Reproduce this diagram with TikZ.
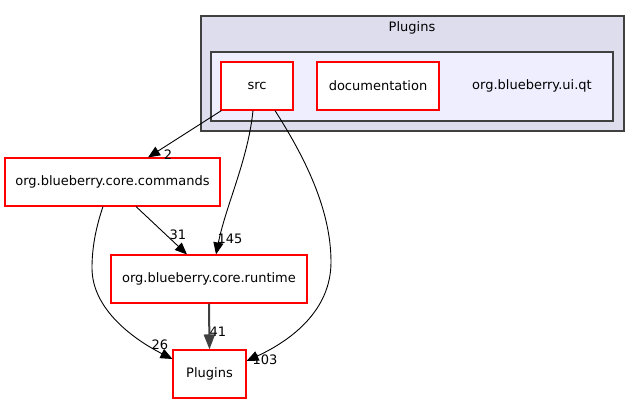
\documentclass[tikz,border=0pt]{standalone}
\usepackage{fontspec}
\setmainfont{DejaVu Sans}
\usetikzlibrary{arrows.meta,calc}
\definecolor{clusterOuter}{HTML}{DDDDEE}
\definecolor{clusterInner}{HTML}{EEEEFF}
\definecolor{clusterLine}{HTML}{404040}
\definecolor{boxRed}{HTML}{FF0000}
\tikzset{
  every node/.style={font=\fontsize{13pt}{15pt}\selectfont},
  dirbox/.style={draw=boxRed, fill=white, line width=1.1pt, inner sep=0pt},
  cluster/.style={draw=clusterLine, line width=1.2pt, inner sep=0pt},
  dep/.style={draw=black, line width=0.9pt, -{Triangle[length=12pt,width=10pt]}},
  deplabel/.style={inner sep=0pt},
}
\begin{document}
\begin{tikzpicture}[x=1pt,y=-1pt]
\useasboundingbox (0,0) rectangle (641,404);
% clusters
\node[cluster, fill=clusterOuter, minimum width=423pt, minimum height=115pt] (outer) at (412.5,73.5) {};
\node (outertitle) at (412,28) {Plugins};
\node[cluster, fill=clusterInner, minimum width=402pt, minimum height=69pt] (inner) at (412,86.5) {};
% nodes
\node[dirbox, minimum width=72pt, minimum height=48pt] (src) at (257,86) {src};
\node[dirbox, minimum width=122pt, minimum height=48pt] (doc) at (378,86) {documentation};
\node (uiqt) at (532,86) {org.blueberry.ui.qt};
\node[dirbox, minimum width=215pt, minimum height=48pt] (cmd) at (112.5,182) {org.blueberry.core.commands};
\node[dirbox, minimum width=196pt, minimum height=48pt] (rt) at (209,279) {org.blueberry.core.runtime};
\node[dirbox, minimum width=73pt, minimum height=48pt] (plg) at (209.5,374) {Plugins};
% edges
\draw[dep] ($(src.south west)+(1,0)$) -- ($(cmd.north)+(35.5,0)$);
\node[deplabel] (l2) at (168,155) {2};
\draw[dep] ($(src.south)+(-4,0)$) .. controls (248,160) and (226,205) .. ($(rt.north)+(7,0)$);
\node[deplabel] (l145) at (230,239) {145};
\draw[dep] ($(src.south)+(18,0)$) .. controls (300,150) and (331,205) .. (331,262) .. controls (331,310) and (292,340) .. ($(plg.east)+(0,-13)$);
\node[deplabel] (l103) at (265,360) {103};
\draw[dep] ($(cmd.south)+(23.5,0)$) -- ($(rt.north)+(-22,0)$);
\node[deplabel] (l31) at (178,235) {31};
\draw[dep] ($(cmd.south)+(-9.5,0)$) .. controls (95,230) and (92,250) .. (92,268) .. controls (92,310) and (135,340) .. ($(plg.west)+(0,-15)$);
\node[deplabel] (l26) at (160,345) {26};
\draw[dep, draw=clusterLine, line width=2pt, -{Triangle[length=15pt,width=11pt]}] (rt.south) -- (plg.north);
\node[deplabel] (l41) at (218,332) {41};
\end{tikzpicture}
\end{document}
